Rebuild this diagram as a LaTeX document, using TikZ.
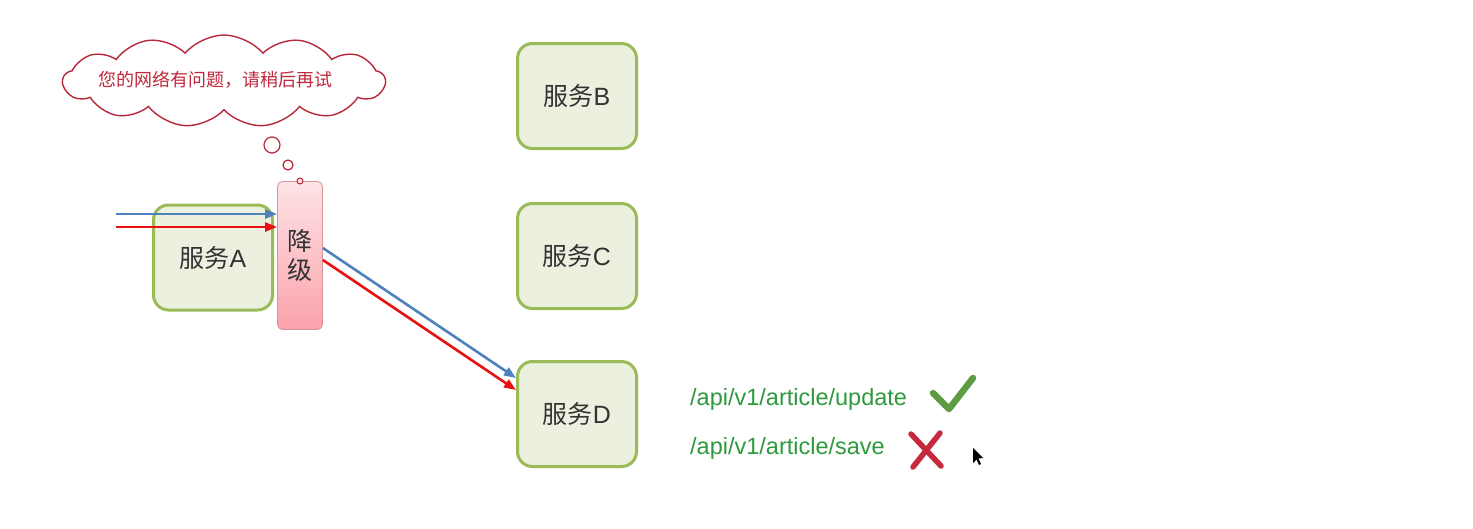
\documentclass[tikz,border=0pt]{standalone}
\usepackage{fontspec}
\setmainfont{Liberation Sans}
\newfontfamily\cjk{Noto Sans CJK SC}
\usetikzlibrary{shapes.symbols,arrows.meta}
\definecolor{boxfill}{HTML}{EBF1DE}
\definecolor{boxline}{HTML}{9BBB59}
\definecolor{arrblue}{HTML}{4F81BD}
\definecolor{arrred}{HTML}{E81010}
\definecolor{cloudline}{HTML}{B8283A}
\definecolor{cloudtext}{HTML}{C0283C}
\definecolor{pinktop}{HTML}{FDE3E6}
\definecolor{pinkbot}{HTML}{FBA2AC}
\definecolor{pinkline}{HTML}{D8939B}
\definecolor{apigreen}{HTML}{2E9A3E}
\definecolor{checkgreen}{HTML}{5E9C44}
\definecolor{crossred}{HTML}{C8283C}
\tikzset{
  svc/.style={draw=boxline, line width=3pt, fill=boxfill, rounded corners=15pt,
    minimum width=119pt, minimum height=105pt, inner sep=0pt, font=\fontsize{25}{29}\selectfont, text=black!80},
  degrade/.style={draw=pinkline, line width=0.8pt, top color=pinktop, bottom color=pinkbot, rounded corners=5pt,
    minimum width=45pt, minimum height=148pt, inner sep=0pt, font=\cjk\fontsize{25}{29}\selectfont, text=black!80, align=center},
  flow/.style={line width=2.6pt, -{Triangle[length=12pt,width=9pt]}},
  api/.style={font=\fontsize{23.5}{27}\selectfont, text=apigreen, anchor=west, inner sep=0pt},
  bubble/.style={draw=cloudline, line width=1.2pt, fill=white}
}
\begin{document}
\begin{tikzpicture}[x=1pt,y=-1pt]
\path[use as bounding box, fill=white] (0,0) rectangle (1473,528);
% cloud
\node[cloud, cloud puffs=13, cloud puff arc=100, aspect=3.5, draw=cloudline, line width=1.4pt, fill=white,
  minimum width=322pt, minimum height=92pt, inner sep=0pt] (cloud) at (224,81) {};
\node[font=\cjk\fontsize{18}{21}\selectfont, text=cloudtext, inner sep=0pt] (msg) at (215,80) {您的网络有问题，请稍后再试};
\node[circle, bubble, minimum size=16pt, inner sep=0pt] (b1) at (272,145) {};
\node[circle, bubble, minimum size=10pt, inner sep=0pt] (b2) at (288,165) {};
% boxes
\node[svc] (A) at (213,257.5) {{\cjk 服务}A};
\node[svc] (B) at (577,96) {{\cjk 服务}B};
\node[svc] (C) at (577,256) {{\cjk 服务}C};
\node[svc] (D) at (577,414) {{\cjk 服务}D};
\node[degrade] (G) at (300,255.5) {降\\级};
\node[circle, draw=cloudline, line width=1pt, fill=pinktop, minimum size=6pt, inner sep=0pt] (b3) at (300,181) {};
% arrows
\coordinate (inB) at (116,214);
\coordinate (inR) at (116,227);
\draw[flow, arrblue] (inB) -- (G.west |- inB);
\draw[flow, arrred] (inR) -- (G.west |- inR);
\draw[flow, arrblue] (G.east |- 0,248) -- (D.west |- 0,378);
\draw[flow, arrred] (G.east |- 0,260) -- (D.west |- 0,390);
% api labels
\node[api] (u) at (690,399) {/api/v1/article/update};
\node[api] (s) at (690,448) {/api/v1/article/save};
\draw[checkgreen, line width=6.5pt, line cap=round, line join=round] (933,393) -- (949,409) -- (973,378);
\draw[crossred, line width=5.5pt, line cap=round] (911,434) -- (941,466);
\draw[crossred, line width=5.5pt, line cap=round] (940,433) -- (913,467);
% cursor
\fill[black] (973,448) -- (973,463) -- (976.5,459.5) -- (979,465) -- (981,464) -- (978.5,458.5) -- (983,458) -- cycle;
\end{tikzpicture}
\end{document}
